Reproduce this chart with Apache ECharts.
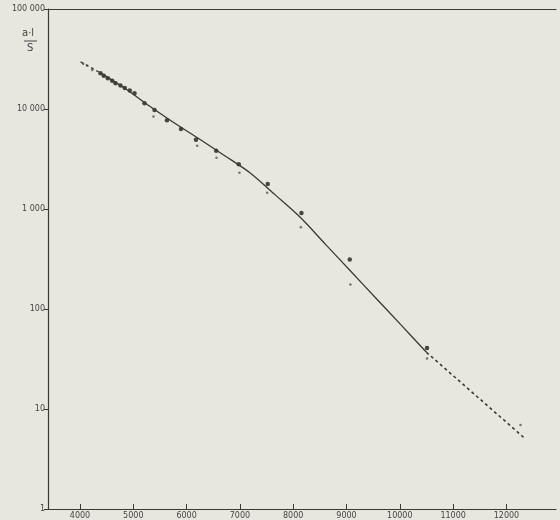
<!DOCTYPE html>
<html><head><meta charset="utf-8">
<script src="https://cdn.jsdelivr.net/npm/echarts@6/dist/echarts.min.js"></script>
<style>html,body{margin:0;padding:0;background:#e8e7df;}#c{width:560px;height:520px;}</style>
</head><body><div id="c"></div>
<script>
// Tick labels
const xTicks = [4000,5000,6000,7000,8000,9000,10000,11000,12000];
const xTickLabels = ['4000','5000','6000','7000','8000','9000','10000','11000','12000'];
const yTicks = [1,10,100,1000,10000,100000];
const yTickLabels = ['1','10','100','1 000','10 000','100 000'];
// Measured points (filled dots)
const dotsX = [4385,4447,4522,4604,4666,4760,4840,4934,5022,5210,5398,5632,5895,6176,6555,6979,7523,8155,9061,10510];
const dotsY = [22800,21500,20300,19200,18100,17200,16200,15300,14400,11400,9800,7710,6300,4930,3830,2800,1780,914,312,40.7];
// Second set of points (small marks)
const marksX = [4060,4135,4229,5379,6199,6561,6992,7512,8143,9074,10510,12264];
const marksY = [28300,27200,24600,8400,4300,3260,2300,1450,656,176,32,6.9];
// Fitted curve (solid)
const curveX = [4385,4854,5323,5792,6261,6730,7199,7668,8137,8606,9075,9544,10013,10500];
const curveY = [22970,15910,10520,7117,4928,3373,2282,1376,821,443,240,129.7,70.2,36.9];
// Extrapolations (dashed)
const extTopX = [4010,4385];
const extTopY = [29600,22970];
const extBotX = [10500,12326];
const extBotY = [36.9,5.19];

const zip = (a,b)=>a.map((v,i)=>[v,b[i]]);
const ink = '#3a3a32';
const chart = echarts.init(document.getElementById('c'));
chart.setOption({
  backgroundColor: '#e8e7df',
  animation: false,
  grid: {left: 48, right: 4, top: 9, bottom: 10, containLabel: false},
  xAxis: [{
    type: 'value', min: 3400, max: 12930,
    axisLine: {lineStyle: {color: ink, width: 1.2}},
    axisTick: {inside: true, length: 5, customValues: xTicks, lineStyle: {color: ink}},
    axisLabel: {customValues: xTicks, margin: 3, fontSize: 8, color: '#444',
      fontFamily: 'DejaVu Sans',
      formatter: v => xTickLabels[xTicks.indexOf(v)] ?? ''},
    splitLine: {show: false}
  },{
    type: 'value', position: 'top', min: 3400, max: 12930,
    axisLine: {show: true, lineStyle: {color: ink, width: 1.2}},
    axisTick: {show: false}, axisLabel: {show: false}, splitLine: {show: false}
  }],
  yAxis: {
    type: 'log', logBase: 10, min: 1, max: 100000,
    axisLine: {show: true, lineStyle: {color: ink, width: 1.2}},
    axisTick: {show: true, length: 4, lineStyle: {color: ink}},
    axisLabel: {fontSize: 8, color: '#444', margin: 3, fontFamily: 'DejaVu Sans',
      formatter: v => { const i = yTicks.findIndex(t => Math.abs(t - v) < 1e-6 * t); return i >= 0 ? yTickLabels[i] : ''; }},
    splitLine: {show: false}, minorTick: {show: false}
  },
  graphic: [
    {type: 'text', left: 22, top: 28, style: {text: 'a·l', fontSize: 10, fill: '#444', fontFamily: 'DejaVu Sans'}},
    {type: 'line', shape: {x1: 24, y1: 41, x2: 37, y2: 41}, style: {stroke: '#444', lineWidth: 1}},
    {type: 'text', left: 27, top: 43, style: {text: 'S', fontSize: 10, fill: '#444', fontFamily: 'DejaVu Sans'}}
  ],
  series: [
    {type: 'line', data: zip(curveX, curveY), smooth: 0.3, symbol: 'none',
      lineStyle: {color: ink, width: 1.3}},
    {type: 'line', data: zip(extTopX, extTopY), symbol: 'none',
      lineStyle: {color: ink, width: 1.3, type: [3, 3]}},
    {type: 'line', data: zip(extBotX, extBotY), symbol: 'none',
      lineStyle: {color: ink, width: 1.6, type: [3, 3]}},
    {type: 'scatter', data: zip(dotsX, dotsY), symbol: 'circle', symbolSize: 4.5,
      itemStyle: {color: '#1e1e1a'}},
    {type: 'scatter', data: zip(marksX, marksY), symbol: 'circle', symbolSize: 2.5,
      itemStyle: {color: '#55554c'}}
  ]
});
</script></body></html>
